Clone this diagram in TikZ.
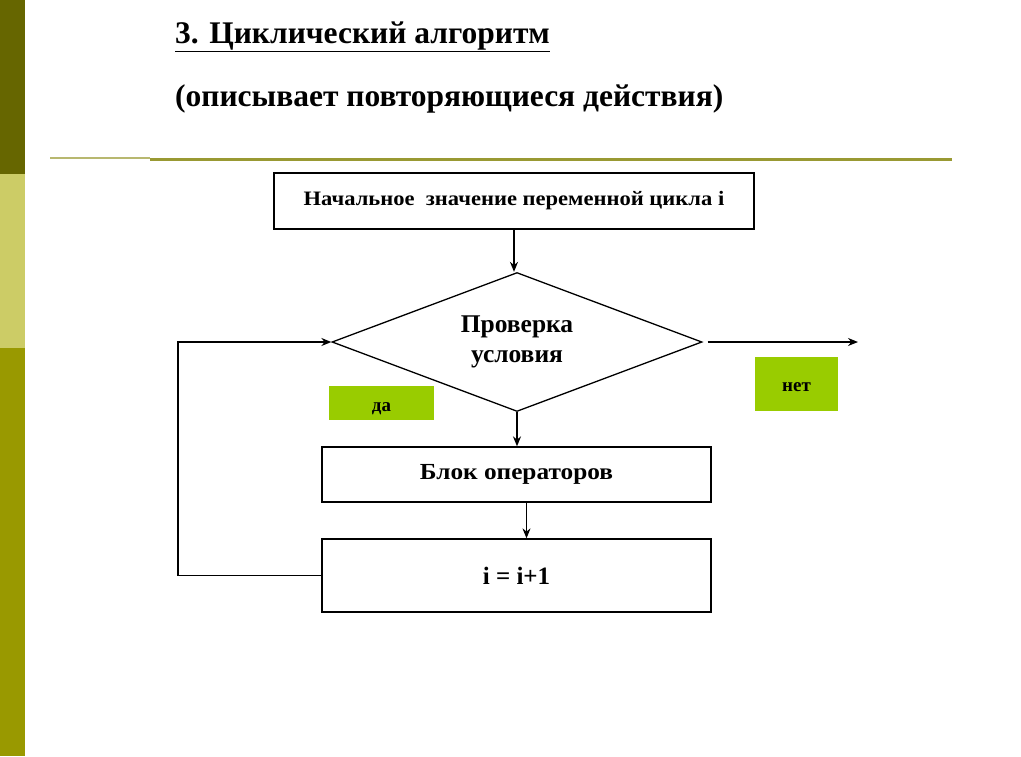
\documentclass[tikz,border=0pt]{standalone}
\usepackage{fontspec}
\setmainfont{Liberation Serif}
\newfontfamily\wideserif[FakeStretch=1.1]{Liberation Serif}
\usepackage{tikz}
\usetikzlibrary{shapes.geometric, arrows, arrows.meta, positioning}
\definecolor{barDark}{HTML}{666600}
\definecolor{barLight}{HTML}{CCCC66}
\definecolor{barMid}{HTML}{999900}
\definecolor{ruleOlive}{HTML}{999933}
\definecolor{tagGreen}{HTML}{99CC00}
\tikzstyle{process} = [rectangle, draw=black, line width=1.3pt, minimum width=389pt, minimum height=55pt, inner sep=0pt, text centered, font=\wideserif\bfseries\fontsize{23}{26}\selectfont]
\tikzstyle{decision} = [diamond, draw=black, line width=1.3pt, aspect=2.66, minimum width=370pt, minimum height=139pt, inner sep=0pt, align=center, font=\bfseries\fontsize{25.5}{30}\selectfont]
\tikzstyle{tag} = [rectangle, fill=tagGreen, inner sep=0pt, text centered, text height=14pt, text depth=0pt, font=\bfseries\fontsize{19}{21}\selectfont]
\tikzstyle{heading} = [anchor=base west, inner sep=0pt, font=\bfseries\fontsize{31.5}{36}\selectfont]
\tikzstyle{arrow} = [line width=1.3pt,->,>={Stealth[length=10pt,width=8pt]}, draw=black]
\tikzstyle{line} = [line width=1.3pt, draw=black]

\begin{document}
\begin{tikzpicture}[x=1pt, y=-1pt]
        \useasboundingbox (0,0) rectangle (1021,756);
        % Side bar and rule
        \fill[barDark] (0,0) rectangle (25,174);
        \fill[barLight] (0,174) rectangle (25,348);
        \fill[barMid] (0,348) rectangle (25,756);
        \draw[ruleOlive!70, line width=1.5pt] (50,158) -- (150,158);
        \draw[ruleOlive, line width=3pt] (150,159) -- (952,159);

        % Headings
        \node (title) [heading] at (175,43) {\underline{3. Циклический алгоритм}};
        \node (subtitle) [heading] at (175,106) {(описывает повторяющиеся действия)};

        % Nodes
        \node (init) [process, minimum width=480pt, minimum height=56pt, font=\wideserif\bfseries\fontsize{20.5}{23}\selectfont] at (514,201) {Начальное\ \ значение переменной цикла i};
        \node (dec) [decision] at (517,342) {Проверка\\условия};
        \node (body) [process] at (516.5,474.5) {Блок операторов};
        \node (incr) [process, minimum height=73pt, font=\bfseries\fontsize{25}{28}\selectfont] at (516.5,575.5) {i = i+1};
        \node (yes) [tag, minimum width=105pt, minimum height=34pt, text height=17pt] at (381.5,403) {да};
        \node (no) [tag, minimum width=83pt, minimum height=54pt] at (796.5,384) {нет};
        \coordinate (exit) at (858,338);
        \coordinate (back) at (178,575.5);

        % Arrows
        \draw [arrow] (init.south) -- (init.south |- dec.north);
        \draw [arrow] (dec.south) -- (dec.south |- body.north);
        \draw [arrow] ([xshift=10pt]body.south) -- ([xshift=10pt]body.south |- incr.north);
        \draw [arrow] ([xshift=5pt]dec.east) -- (dec.east -| exit);

        % Loop back
        \draw [line] (incr.west) -- (back);
        \draw [arrow] (back) |- (dec.west);
    \end{tikzpicture}
\end{document}
